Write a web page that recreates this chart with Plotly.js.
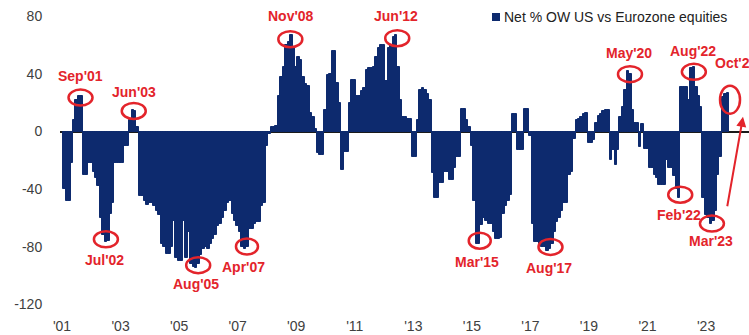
<!DOCTYPE html>
<html><head><meta charset="utf-8">
<script src="https://cdn.plot.ly/plotly-3.0.1.min.js"></script>
<style>html,body{margin:0;padding:0;background:#fff}#chart{width:749px;height:335px}</style>
</head><body><div id="chart"></div>
<script>
// Net % overweight US vs Eurozone equities, monthly (Jan..Dec per year)
const y2001 = [null, -40, -48, -48, -22, 8, 22, 25, 25, -30, -30, -22];
const y2002 = [-22, -28, -32, -38, -60, -72, -77, -76, -57, -50, -22, -22];
const y2003 = [-22, -22, -10, -10, 8, 15, 14, 3, -45, -45, -48, -51];
const y2004 = [-50, -50, -52, -55, -58, -78, -80, -85, -85, -80, -62, -88];
const y2005 = [-90, -90, -62, -88, -70, -92, -94, -95, -92, -86, -82, -80];
const y2006 = [-82, -78, -75, -72, -66, -64, -60, -55, -50, -48, -57, -62];
const y2007 = [-66, -70, -80, -82, -80, -68, -68, -64, -63, -63, -52, -50];
const y2008 = [-10, -2, 3, 3, 4, 25, 38, 45, 60, 62, 67, 58];
const y2009 = [45, 52, 50, 38, 33, 32, 13, 10, 2, -15, -16, -16];
const y2010 = [15, 39, 40, 56, 56, 34, 20, -27, -14, -14, 20, 36];
const y2011 = [36, 25, 25, 28, 30, 43, 44, 44, 45, 52, 58, 60];
const y2012 = [60, 35, 58, 60, 66, 67, 45, 22, 10, 10, 9, 9];
const y2013 = [-18, -18, 8, 29, 30, 29, 26, 22, -29, -46, -46, -36];
const y2014 = [-36, -28, -28, -34, -34, -25, -18, -18, 16, 16, 8, 3];
const y2015 = [-10, -48, -78, -78, -65, -60, -62, -64, -64, -70, -75, -75];
const y2016 = [-74, -57, -52, -48, -44, 12, 12, -13, -13, -13, 16, 16];
const y2017 = [-3, -64, -77, -77, -78, -80, -80, -83, -82, -78, -70, -63];
const y2018 = [-60, -55, -50, -50, -30, -28, -5, 8, 9, 10, 12, 13];
const y2019 = [-8, -8, -6, 6, 11, 12, 14, 15, 15, -20, -13, -23];
const y2020 = [-13, 10, 17, 29, 42, 40, 15, 6, 6, -11, 5, -12];
const y2021 = [-12, -25, -25, -30, -32, -37, -37, -37, -20, -25, -25, -31];
const y2022 = [-40, -46, 31, 31, 31, 22, 44, 45, 31, 25, 17, -46];
const y2023 = [-58, -60, -64, -62, -55, -30, -18, 24, 26, 27];

const years = [2001,2002,2003,2004,2005,2006,2007,2008,2009,2010,2011,2012,
               2013,2014,2015,2016,2017,2018,2019,2020,2021,2022,2023];
const yearly = [y2001,y2002,y2003,y2004,y2005,y2006,y2007,y2008,y2009,y2010,y2011,y2012,
                y2013,y2014,y2015,y2016,y2017,y2018,y2019,y2020,y2021,y2022,y2023];
const monthNames = ['Jan','Feb','Mar','Apr','May','Jun','Jul','Aug','Sep','Oct','Nov','Dec'];

const tickYears = [2001,2003,2005,2007,2009,2011,2013,2015,2017,2019,2021,2023];
const yTicks = [-120,-80,-40,0,40,80];

// highlighted months
const callouts = ["Sep'01","Jul'02","Jun'03","Aug'05","Apr'07","Nov'08","Jun'12",
                  "Mar'15","Aug'17","May'20","Feb'22","Aug'22","Mar'23","Oct'23"];

// ---- build series ----
const xs = [], ys = [], labels = [];
let k = 0;
years.forEach((yr, i) => {
  yearly[i].forEach((v, m) => {
    xs.push(k); ys.push(v);
    labels.push(monthNames[m] + "'" + String(yr).slice(2));
    k++;
  });
});
const tickvals = tickYears.map(yr => (yr - years[0]) * 12);
const ticktext = tickYears.map(yr => "'" + String(yr).slice(2));

const RED = '#e3242b';
const NAVY = '#0d2a6e';
// style: circle offset (px, down positive), radii; text offset
const style = {
  "Sep'01": {cx:-1, cy:2,  rx:12, ry:8, tx:-1, ty:-20},
  "Jul'02": {cx:0,  cy:-3, rx:12, ry:8, tx:-1, ty:18},
  "Jun'03": {cx:1,  cy:1,  rx:12, ry:8, tx:1,  ty:-18},
  "Aug'05": {cx:2,  cy:-3, rx:12, ry:8, tx:0,  ty:16},
  "Apr'07": {cx:2,  cy:-3, rx:11, ry:8, tx:-1, ty:18},
  "Nov'08": {cx:-1, cy:4,  rx:12, ry:8, tx:0,  ty:-19},
  "Jun'12": {cx:1,  cy:3,  rx:12, ry:8, tx:0,  ty:-19},
  "Mar'15": {cx:3,  cy:-3, rx:11, ry:8, tx:0,  ty:18},
  "Aug'17": {cx:3,  cy:-4, rx:12, ry:8, tx:2,  ty:17},
  "May'20": {cx:2,  cy:3,  rx:12, ry:8, tx:1,  ty:-18},
  "Feb'22": {cx:1,  cy:-3, rx:12, ry:8, tx:0,  ty:17},
  "Aug'22": {cx:0,  cy:5,  rx:12, ry:8, tx:-1, ty:-16},
  "Mar'23": {cx:1,  cy:0,  rx:12, ry:8, tx:0,  ty:17},
  "Oct'23": {cx:2,  cy:7,  rx:10, ry:14, tx:-15, ty:-30, left:true}
};

const shapes = [], annotations = [];
callouts.forEach(lbl => {
  const i = labels.indexOf(lbl);
  const s = style[lbl];
  shapes.push({type:'circle', xref:'x', yref:'y', xsizemode:'pixel', ysizemode:'pixel',
    xanchor: xs[i], yanchor: ys[i],
    x0: s.cx - s.rx, x1: s.cx + s.rx, y0: -s.cy - s.ry, y1: -s.cy + s.ry,
    line:{color:RED, width:2.5}, fillcolor:'rgba(0,0,0,0)'});
  annotations.push({xref:'x', yref:'y', x: xs[i], y: ys[i], showarrow:false,
    text:'<b>' + lbl + '</b>', xshift: s.tx, yshift: -s.ty,
    xanchor: s.left ? 'left' : 'center', yanchor:'middle',
    font:{family:'Liberation Sans, Arial, sans-serif', size:14, color:RED}});
});
// arrow pointing at latest reading
{
  const i = labels.indexOf("Oct'23");
  annotations.push({xref:'x', yref:'y', x: xs[i], y: ys[i], xshift:15, yshift:-24,
    text:'', showarrow:true, arrowhead:2, arrowsize:1, arrowwidth:2, arrowcolor:RED,
    ax:-16, ay:91});
}
// legend (manual, compact)
const L = 60, R = 749, T = 5, B = 307;
const px = v => (v - L) / (R - L), py = v => (B - v) / (B - T);
shapes.push({type:'rect', xref:'paper', yref:'paper', xsizemode:'pixel', ysizemode:'pixel',
  xanchor: px(496), yanchor: py(17), x0:-4, x1:4, y0:-4, y1:4,
  fillcolor:NAVY, line:{width:0}});
annotations.push({xref:'paper', yref:'paper', x: px(502), y: py(17), xanchor:'left', yanchor:'middle',
  showarrow:false, text:'Net % OW US vs Eurozone equities',
  font:{family:'Liberation Sans, Arial, sans-serif', size:14, color:'#222'}});

const trace = {
  type:'bar', x: xs, y: ys, text: labels, hoverinfo:'text+y', textposition:'none',
  name:'Net % OW US vs Eurozone equities',
  marker:{color:NAVY, line:{color:NAVY, width:1}}
};

const tickFont = {family:'Liberation Sans, Arial, sans-serif', size:14, color:'#404040'};
const layout = {
  width:749, height:335,
  margin:{l:L, r:0, t:T, b:335 - B, pad:0},
  paper_bgcolor:'#fff', plot_bgcolor:'#fff',
  bargap:0, showlegend:false, hovermode:false,
  xaxis:{range:[-0.82, 281.6], tickmode:'array', tickvals, ticktext,
    ticks:'outside', ticklen:6, tickcolor:'rgba(0,0,0,0)',
    showgrid:false, zeroline:false, showline:false, tickfont:tickFont, fixedrange:true},
  yaxis:{range:[-122, 88], tickmode:'array', tickvals:yTicks, ticktext:yTicks.map(String),
    ticks:'outside', ticklen:14, tickcolor:'rgba(0,0,0,0)',
    showgrid:false, zeroline:true, zerolinecolor:'#1a1a1a', zerolinewidth:1.5,
    showline:false, tickfont:tickFont, fixedrange:true},
  shapes, annotations
};
Plotly.newPlot('chart', [trace], layout, {displayModeBar:false});
</script>
</body></html>
